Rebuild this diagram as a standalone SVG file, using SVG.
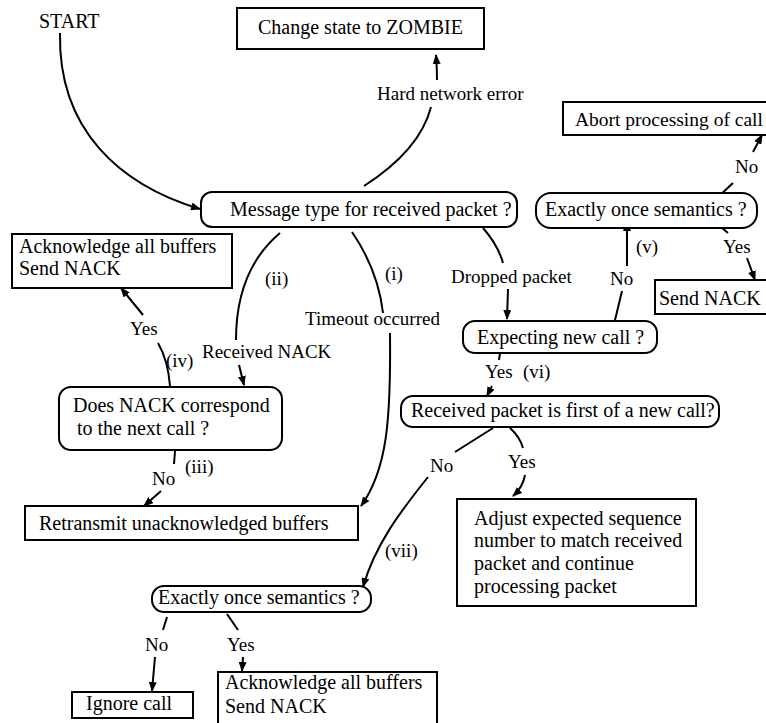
<svg xmlns="http://www.w3.org/2000/svg" width="766" height="723" viewBox="0 0 766 723">
  <style>
    text { font-family: "Liberation Serif", "Times New Roman", serif; font-size: 20px; fill: #000; }
    .lbl { font-size: 19px; }
    .box { fill: #fff; stroke: #000; stroke-width: 2; }
    .edge { fill: none; stroke: #000; stroke-width: 2; }
    .arrow { marker-end: url(#head); }
  </style>
  <defs>
    <marker id="head" markerUnits="userSpaceOnUse" viewBox="0 0 10 8" markerWidth="10" markerHeight="8" refX="9" refY="4" orient="auto">
      <path d="M0,0 L10,4 L0,8 z" fill="#000"/>
    </marker>
  </defs>

  <rect width="766" height="723" fill="#fff"/>

  <!-- connectors -->
  <g id="connectors">
    <path class="edge arrow" d="M60,33 C58,130 120,185 200,209"/>
    <path class="edge" d="M364,186 Q420,150 431,107"/>
    <path class="edge arrow" d="M437,80 Q437,68 436,55"/>
    <path class="edge" d="M280,233 Q236,270 236,340"/>
    <path class="edge arrow" d="M239,365 L244,385"/>
    <path class="edge" d="M352,232 Q378,270 383,313"/>
    <path class="edge arrow" d="M390,333 C391,420 387,470 361,506"/>
    <path class="edge" d="M170,386 Q168,360 158,343"/>
    <path class="edge arrow" d="M143,315 L121,288"/>
    <path class="edge" d="M175,451 L174,464"/>
    <path class="edge arrow" d="M161,491 L144,506"/>
    <path class="edge" d="M483,228 Q498,245 503,263"/>
    <path class="edge arrow" d="M508,289 L507,319"/>
    <path class="edge" d="M615,320 L622,291"/>
    <path class="edge arrow" d="M627,266 L627,222"/>
    <path class="edge" d="M718,197 L733,183"/>
    <path class="edge arrow" d="M753,152 L762,135"/>
    <path class="edge" d="M715,222 L728,233"/>
    <path class="edge arrow" d="M747,258 L755,280"/>
    <path class="edge" d="M500,353 L499,360"/>
    <path class="edge arrow" d="M492,386 L487,396"/>
    <path class="edge" d="M510,428 Q520,437 523,448"/>
    <path class="edge arrow" d="M525,475 Q523,487 513,496"/>
    <path class="edge" d="M493,428 L455,452"/>
    <path class="edge arrow" d="M428,477 C400,512 375,545 363,587"/>
    <path class="edge" d="M167,617 L163,630"/>
    <path class="edge arrow" d="M155,657 L152,691"/>
    <path class="edge" d="M227,614 L238,630"/>
    <path class="edge arrow" d="M243,657 L242,671"/>
  </g>

  <!-- connector labels -->
  <g id="edge-labels">
    <text class="lbl" x="377" y="100">Hard network error</text>
    <text class="lbl" x="265" y="285">(ii)</text>
    <text class="lbl" x="385" y="280">(i)</text>
    <text class="lbl" x="202" y="358">Received NACK</text>
    <text class="lbl" x="305" y="325">Timeout occurred</text>
    <text class="lbl" x="130" y="335">Yes</text>
    <text class="lbl" x="166" y="367">(iv)</text>
    <text class="lbl" x="185" y="473">(iii)</text>
    <text class="lbl" x="152" y="485">No</text>
    <text class="lbl" x="451" y="283">Dropped packet</text>
    <text class="lbl" x="610" y="285">No</text>
    <text class="lbl" x="636" y="253">(v)</text>
    <text class="lbl" x="735" y="173">No</text>
    <text class="lbl" x="723" y="253">Yes</text>
    <text class="lbl" x="485" y="378">Yes</text>
    <text class="lbl" x="523" y="378">(vi)</text>
    <text class="lbl" x="430" y="472">No</text>
    <text class="lbl" x="508" y="468">Yes</text>
    <text class="lbl" x="385" y="557">(vii)</text>
    <text class="lbl" x="145" y="651">No</text>
    <text class="lbl" x="227" y="651">Yes</text>
  </g>

  <!-- nodes -->
  <g id="start">
    <text x="39" y="28">START</text>
  </g>
  <g id="zombie">
    <rect class="box" x="237" y="8" width="247" height="41"/>
    <text x="258" y="34">Change state to ZOMBIE</text>
  </g>
  <g id="message-type">
    <rect class="box" x="201" y="192" width="316" height="35" rx="11"/>
    <text x="230" y="216">Message type for received packet ?</text>
  </g>
  <g id="abort">
    <rect class="box" x="563" y="102" width="206" height="33"/>
    <text x="575" y="126" style="font-size:19.5px">Abort processing of call</text>
  </g>
  <g id="exactly-once-right">
    <rect class="box" x="536" y="193" width="221" height="35" rx="15"/>
    <text x="545" y="216">Exactly once semantics ?</text>
  </g>
  <g id="send-nack-right">
    <rect class="box" x="655" y="280" width="113" height="34"/>
    <text x="659" y="305">Send NACK</text>
  </g>
  <g id="ack-left">
    <rect class="box" x="12" y="234" width="220" height="54"/>
    <text x="19" y="253">Acknowledge all buffers</text>
    <text x="19" y="275">Send NACK</text>
  </g>
  <g id="does-nack">
    <rect class="box" x="59" y="387" width="223" height="63" rx="12"/>
    <text x="73" y="412">Does NACK correspond</text>
    <text x="77" y="435">to the next call ?</text>
  </g>
  <g id="retransmit">
    <rect class="box" x="25" y="506" width="333" height="34"/>
    <text x="39" y="530">Retransmit unacknowledged buffers</text>
  </g>
  <g id="expecting">
    <rect class="box" x="463" y="321" width="194" height="32" rx="12"/>
    <text x="477" y="344">Expecting new call ?</text>
  </g>
  <g id="first-of-new-call">
    <rect class="box" x="401" y="396" width="318" height="31" rx="12"/>
    <text x="411" y="417">Received packet is first of a new call?</text>
  </g>
  <g id="adjust">
    <rect class="box" x="457" y="499" width="239" height="107"/>
    <text x="474" y="525">Adjust expected sequence</text>
    <text x="474" y="547">number to match received</text>
    <text x="474" y="570">packet and continue</text>
    <text x="474" y="593">processing packet</text>
  </g>
  <g id="exactly-once-bottom">
    <rect class="box" x="152" y="586" width="219" height="26" rx="12"/>
    <text x="158" y="604">Exactly once semantics ?</text>
  </g>
  <g id="ignore">
    <rect class="box" x="72" y="692" width="121" height="26"/>
    <text x="86" y="710">Ignore call</text>
  </g>
  <g id="ack-bottom">
    <rect class="box" x="218" y="672" width="219" height="52"/>
    <text x="225" y="689">Acknowledge all buffers</text>
    <text x="225" y="713">Send NACK</text>
  </g>
</svg>
